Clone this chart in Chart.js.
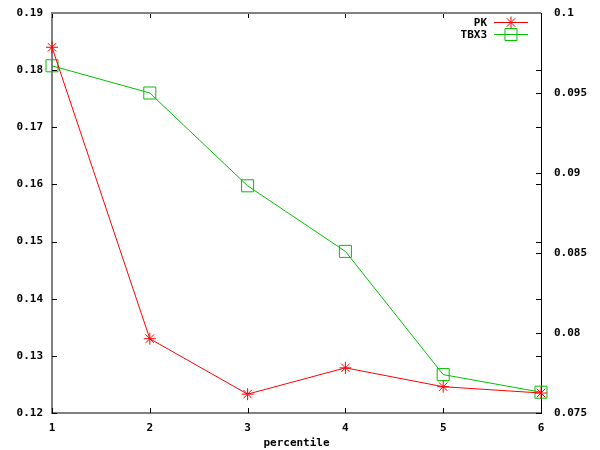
<!DOCTYPE html>
<html>
<head>
<meta charset="utf-8">
<script src="https://cdn.jsdelivr.net/npm/chart.js@4/dist/chart.umd.min.js"></script>
<style>
  html, body { margin: 0; padding: 0; background: #fff; }
  canvas { display: block; }
</style>
</head>
<body>
<canvas id="chart" width="600" height="450"></canvas>
<script>
const percentiles = [1, 2, 3, 4, 5, 6];
const pkValues = [0.1840, 0.1330, 0.1233, 0.1279, 0.1246, 0.1235];
const tbx3Values = [0.0967, 0.0950, 0.0892, 0.0851, 0.0774, 0.0763];
const seriesNames = ["PK", "TBX3"];
const xTitle = "percentile";

const RED = "#ff0000";
const GREEN = "#00c000";

Chart.defaults.font.family = "'DejaVu Sans Mono', monospace";
Chart.defaults.font.size = 11;
Chart.defaults.font.weight = "bold";
Chart.defaults.color = "#000";

// number label like gnuplot: 0.19, 0.1, 0.095
function fmt(v) {
  return String(Number(v.toFixed(4)));
}

// fixed axis sizes, no extra label overflow padding
function fixSize(w, h) {
  return s => {
    if (w != null) s.width = w;
    if (h != null) s.height = h;
    s.paddingTop = 0;
    s.paddingBottom = 0;
    s.paddingLeft = 0;
    s.paddingRight = 0;
  };
}

// inward tick marks, top border and the in-plot key
const gnuplotFrame = {
  id: "gnuplotFrame",
  afterDatasetsDraw(chart) {
    const { ctx, chartArea } = chart;
    const { left, right, top, bottom } = chartArea;
    const xs = chart.scales.x;
    const ys = chart.scales.y;
    const y2s = chart.scales.y2;
    const len = 5;

    ctx.save();
    ctx.strokeStyle = "#000";
    ctx.lineWidth = 1;
    ctx.beginPath();
    xs.ticks.forEach(t => {
      const px = Math.round(xs.getPixelForValue(t.value)) + 0.5;
      ctx.moveTo(px, bottom); ctx.lineTo(px, bottom - len);
      ctx.moveTo(px, top); ctx.lineTo(px, top + len);
    });
    ys.ticks.forEach(t => {
      const py = Math.round(ys.getPixelForValue(t.value)) + 0.5;
      ctx.moveTo(left, py); ctx.lineTo(left + len, py);
      ctx.moveTo(right, py); ctx.lineTo(right - len, py);
    });
    y2s.ticks.forEach(t => {
      const py = Math.round(y2s.getPixelForValue(t.value)) + 0.5;
      ctx.moveTo(right, py); ctx.lineTo(right - len, py);
    });
    ctx.stroke();

    // top border
    ctx.strokeStyle = "#808080";
    ctx.lineWidth = 2;
    ctx.beginPath();
    ctx.moveTo(left, top);
    ctx.lineTo(right, top);
    ctx.stroke();
    ctx.restore();
  },
  afterDraw(chart) {
    const { ctx, chartArea } = chart;
    const rows = [chartArea.top + 9.5, chartArea.top + 21.5];
    ctx.save();
    ctx.font = "bold 11px 'DejaVu Sans Mono', monospace";
    ctx.textAlign = "right";
    ctx.textBaseline = "middle";
    chart.data.datasets.forEach((ds, i) => {
      const y = rows[i];
      ctx.fillStyle = "#000";
      ctx.fillText(ds.label, chartArea.right - 54, y + 1);
      ctx.strokeStyle = ds.borderColor;
      ctx.lineWidth = 1;
      ctx.beginPath();
      ctx.moveTo(chartArea.right - 47, y);
      ctx.lineTo(chartArea.right - 13, y);
      ctx.stroke();
      ctx.fillStyle = "rgba(0,0,0,0)";
      Chart.helpers.drawPoint(ctx, {
        pointStyle: ds.pointStyle,
        radius: ds.pointRadius,
        borderWidth: 1,
        rotation: 0
      }, chartArea.right - 30, y);
    });
    ctx.restore();
  }
};

new Chart(document.getElementById("chart"), {
  type: "line",
  data: {
    datasets: [
      {
        label: seriesNames[0],
        data: percentiles.map((p, i) => ({ x: p, y: pkValues[i] })),
        yAxisID: "y",
        borderColor: RED,
        backgroundColor: "transparent",
        pointBorderColor: RED,
        pointBackgroundColor: "transparent",
        pointStyle: "star",
        pointRadius: 6,
        pointBorderWidth: 1,
        borderWidth: 1,
        tension: 0,
        clip: false
      },
      {
        label: seriesNames[1],
        data: percentiles.map((p, i) => ({ x: p, y: tbx3Values[i] })),
        yAxisID: "y2",
        borderColor: GREEN,
        backgroundColor: "transparent",
        pointBorderColor: GREEN,
        pointBackgroundColor: "transparent",
        pointStyle: "rect",
        pointRadius: 8.5,
        pointBorderWidth: 1,
        borderWidth: 1,
        tension: 0,
        clip: false
      }
    ]
  },
  options: {
    responsive: false,
    animation: false,
    devicePixelRatio: 1,
    layout: { padding: { top: 13, left: 0, right: 0, bottom: 0 } },
    plugins: {
      legend: { display: false },
      tooltip: { enabled: false }
    },
    scales: {
      x: {
        type: "linear",
        min: 1,
        max: 6,
        ticks: { stepSize: 1, padding: 9, callback: v => fmt(v) },
        grid: { display: false, drawTicks: false },
        border: { display: true, color: "#808080", width: 2 },
        title: { display: true, text: xTitle, padding: { top: 0, bottom: 0 } },
        afterFit: fixSize(null, 37)
      },
      y: {
        position: "left",
        min: 0.12,
        max: 0.19,
        ticks: { stepSize: 0.01, padding: 9, callback: v => fmt(v) },
        grid: { display: false, drawTicks: false },
        border: { display: true, color: "#808080", width: 2 },
        afterFit: fixSize(52, null)
      },
      y2: {
        position: "right",
        min: 0.075,
        max: 0.1,
        ticks: { stepSize: 0.005, padding: 13, callback: v => fmt(v) },
        grid: { display: false, drawTicks: false },
        border: { display: true, color: "#000", width: 1 },
        afterFit: fixSize(59, null)
      }
    }
  },
  plugins: [gnuplotFrame]
});
</script>
</body>
</html>
